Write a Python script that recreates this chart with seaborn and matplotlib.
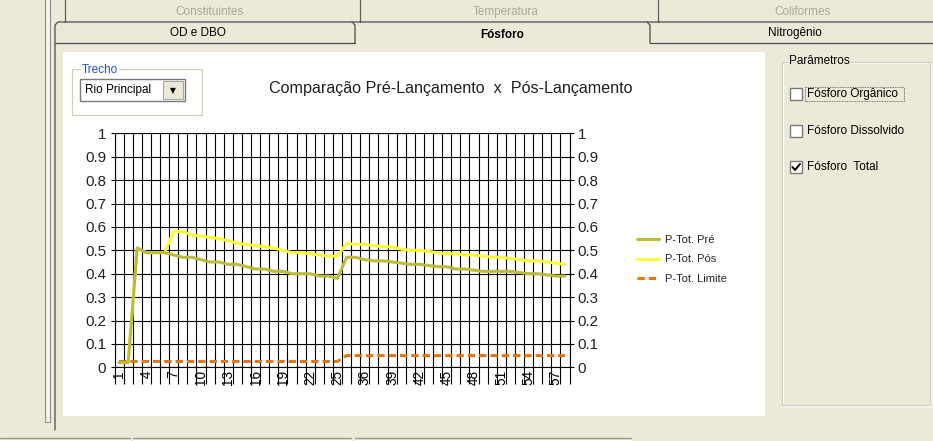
import numpy as np
import pandas as pd
import matplotlib
matplotlib.use("Agg")
import matplotlib.pyplot as plt
from matplotlib.patches import Rectangle
from matplotlib.lines import Line2D
from matplotlib.ticker import FixedLocator, FuncFormatter
import seaborn as sns

# ---------------- data ----------------
categories = ["1", "2", "3", "4", "5", "6", "7", "8", "9", "10", "11", "12", "13",
              "14", "15", "16", "17", "18", "19", "20", "21", "22", "23", "24", "25",
              "34", "35", "36", "37", "38", "39", "40", "41", "42", "43", "44", "45",
              "46", "47", "48", "49", "50", "51", "52", "53", "54", "55", "56", "57", "58"]

p_tot_pre = [0.02, 0.02, 0.51, 0.49, 0.49, 0.49, 0.48, 0.47, 0.47, 0.46, 0.45, 0.45, 0.44,
             0.44, 0.43, 0.42, 0.42, 0.41, 0.41, 0.40, 0.40, 0.40, 0.39, 0.39, 0.38,
             0.47, 0.47, 0.46, 0.455, 0.455, 0.45, 0.445, 0.44, 0.44, 0.435, 0.43, 0.43,
             0.42, 0.42, 0.415, 0.41, 0.41, 0.41, 0.41, 0.405, 0.40, 0.40, 0.395, 0.39, 0.39]

p_tot_pos = [0.02, 0.02, 0.51, 0.49, 0.49, 0.49, 0.58, 0.58, 0.565, 0.56, 0.555, 0.55, 0.54,
             0.53, 0.525, 0.52, 0.515, 0.51, 0.50, 0.49, 0.49, 0.485, 0.48, 0.475, 0.475,
             0.53, 0.525, 0.525, 0.52, 0.515, 0.515, 0.505, 0.50, 0.50, 0.495, 0.49, 0.485,
             0.485, 0.48, 0.48, 0.475, 0.47, 0.47, 0.465, 0.46, 0.455, 0.455, 0.45, 0.445, 0.44]

p_tot_limite = [0.025, 0.025, 0.025, 0.025, 0.025, 0.025, 0.025, 0.025, 0.025, 0.025,
                0.025, 0.025, 0.025, 0.025, 0.025, 0.025, 0.025, 0.025, 0.025, 0.025,
                0.025, 0.025, 0.025, 0.025, 0.025,
                0.05, 0.05, 0.05, 0.05, 0.05, 0.05, 0.05, 0.05, 0.05, 0.05,
                0.05, 0.05, 0.05, 0.05, 0.05, 0.05, 0.05, 0.05, 0.05, 0.05,
                0.05, 0.05, 0.05, 0.05, 0.05]

series_labels = ["P-Tot. Pré", "P-Tot. Pós", "P-Tot. Limite"]
y_ticks = [0, 0.1, 0.2, 0.3, 0.4, 0.5, 0.6, 0.7, 0.8, 0.9, 1]
title = "Comparação Pré-Lançamento  x  Pós-Lançamento"

df = pd.DataFrame({"pos": np.arange(len(categories)), "cat": categories,
                   "pre": p_tot_pre, "pos_": p_tot_pos, "lim": p_tot_limite})

# ---------------- style ----------------
sns.set_style("white")
plt.rcParams["font.family"] = ["Liberation Sans", "DejaVu Sans"]

W, H = 933, 441
BG = "#ECE9D8"
fig = plt.figure(figsize=(W / 100, H / 100), dpi=100, facecolor=BG)


def fx(x):
    return x / W


def fy(y):
    return 1 - y / H


def rect(x0, y0, x1, y1, z=0.5, **kw):
    fig.add_artist(Rectangle((fx(x0), fy(y1)), (x1 - x0) / W, (y1 - y0) / H,
                             transform=fig.transFigure, zorder=z, **kw))


def line(xs, ys, z=0.6, **kw):
    fig.add_artist(Line2D([fx(x) for x in xs], [fy(y) for y in ys],
                          transform=fig.transFigure, zorder=z, **kw))


def text(x, y, s, z=1, **kw):
    fig.text(fx(x), fy(y), s, zorder=z, **kw)


GUI_FONT = 8.5
# ---- window chrome ----
rect(45, -2, 50, 422, facecolor="#F4F3EE", edgecolor="#8E8E8E", linewidth=0.8)
# top tab row (partially hidden)
for xv in [65, 360, 658]:
    line([xv, xv], [0, 22], color="#5E5E5E", linewidth=0.9)
text(209, 12, "Constituintes", ha="center", va="center", fontsize=GUI_FONT, color="#ACA899")
text(506, 12, "Temperatura", ha="center", va="center", fontsize=GUI_FONT, color="#ACA899")
text(803, 12, "Coliformes", ha="center", va="center", fontsize=GUI_FONT, color="#ACA899")
# second tab row
line([55, 55, 58, 933], [430, 25, 22, 22], color="#4A4A4A", linewidth=0.9)
line([352, 355, 355], [22, 25, 43], color="#4A4A4A", linewidth=0.9)
line([647, 650, 650], [22, 25, 43], color="#4A4A4A", linewidth=0.9)
line([55, 355], [43, 43], color="#4A4A4A", linewidth=0.9)
line([650, 933], [43, 43], color="#4A4A4A", linewidth=0.9)
text(198, 33, "OD e DBO", ha="center", va="center", fontsize=GUI_FONT, color="black")
text(502, 35, "Fósforo", ha="center", va="center", fontsize=GUI_FONT, color="black",
     fontweight="bold")
text(795, 33, "Nitrogênio", ha="center", va="center", fontsize=GUI_FONT, color="black")
# bottom tabs
for (a, b) in [(0, 130), (133, 351), (355, 631)]:
    line([a, b], [438, 438], color="#9A9A90", linewidth=1.0)
    line([a, b], [439.5, 439.5], color="white", linewidth=0.8)

# white chart panel
rect(63, 52, 765, 416, z=0.2, facecolor="white", edgecolor="none")

# Trecho group box
rect(72, 69, 202, 115, facecolor="none", edgecolor="#D0D0BF", linewidth=0.9)
text(82, 70, "Trecho", ha="left", va="center", fontsize=GUI_FONT, color="#1E4FD8",
     bbox=dict(facecolor="white", edgecolor="none", pad=0.6))
rect(80, 79, 185, 101, facecolor="white", edgecolor="#7A7A7A", linewidth=1.0)
rect(163, 81, 183, 99, facecolor=BG, edgecolor="#A8A8A0", linewidth=0.8)
text(173, 90.5, "▼", ha="center", va="center", fontsize=5.5, color="black",
     family="DejaVu Sans")
text(85, 90.5, "Rio Principal", ha="left", va="center", fontsize=GUI_FONT, color="black")

# chart title
text(451, 88, title, ha="center", va="center", fontsize=11.6, color="#202020")

# Parâmetros group box
rect(782, 62, 930, 405, facecolor="none", edgecolor="#D0D0BF", linewidth=1.0)
rect(783, 63, 931, 406, z=0.45, facecolor="none", edgecolor="white", linewidth=1.0)
text(789, 61, "Parâmetros", ha="left", va="center", fontsize=GUI_FONT, color="black",
     bbox=dict(facecolor=BG, edgecolor="none", pad=0.6))
checks = [("Fósforo Orgânico", 94, False), ("Fósforo Dissolvido", 131, False),
          ("Fósforo  Total", 167, True)]
for lab, yc, checked in checks:
    rect(790, yc - 6, 802, yc + 6, facecolor="white", edgecolor="#7A7A7A", linewidth=1.0)
    text(807, yc, lab, ha="left", va="center", fontsize=GUI_FONT, color="black")
    if checked:
        line([792.5, 795, 800], [yc, yc + 3, yc - 3], z=1.2, color="black", linewidth=1.4)
rect(805, 87, 904, 101, facecolor="none", edgecolor="#505050", linewidth=0.6,
     linestyle=(0, (1, 1)))

# ---------------- chart ----------------
ax = fig.add_axes([fx(114.5), fy(367.3), 455 / W, 234 / H])
ax.set_zorder(5)
ax.set_facecolor("white")

C_PRE = "#BCBC3A"
C_POS = "#FFFF33"
C_LIM = "#E8740C"
LW = 2.2

sns.lineplot(data=df, x="pos", y="pos_", ax=ax, color=C_POS, linewidth=LW, zorder=3)
sns.lineplot(data=df, x="pos", y="lim", ax=ax, color=C_LIM, linewidth=LW,
             dashes=False, zorder=3.5).lines[-1].set_dashes((2.4, 1.3))
sns.lineplot(data=df, x="pos", y="pre", ax=ax, color=C_PRE, linewidth=LW, zorder=4)

ax.set_xlim(-0.5, len(categories) - 0.5)
ax.set_ylim(0, 1)
ax.set_xlabel("")
ax.set_ylabel("")

# x: labels every 3rd category, ticks at category boundaries
lab_pos = list(range(0, len(categories), 3))
ax.xaxis.set_major_locator(FixedLocator(lab_pos))
ax.set_xticklabels([categories[i] for i in lab_pos], rotation=90, fontsize=9.8,
                   ha="center", va="top")
ax.xaxis.set_minor_locator(FixedLocator([k - 0.5 for k in range(len(categories) + 1)]))
ax.tick_params(axis="x", which="major", length=0, pad=2, colors="black")
ax.tick_params(axis="x", which="minor", length=12.5, width=0.8, direction="out",
               color="black", bottom=True)

# y: both sides
ax.yaxis.set_major_locator(FixedLocator(y_ticks))
ax.yaxis.set_major_formatter(FuncFormatter(lambda v, p: "%g" % v))
ax.tick_params(axis="y", which="major", left=True, right=True, labelleft=True,
               labelright=True, length=3, width=0.8, direction="out", pad=3,
               labelsize=10.8, colors="black")
for t in ax.get_yticklabels():
    t.set_color("#202020")

ax.grid(False)
ax.grid(True, which="major", axis="y", color="black", linewidth=0.8)
ax.grid(True, which="minor", axis="x", color="black", linewidth=0.8)
ax.set_axisbelow(True)
for s in ax.spines.values():
    s.set_color("black")
    s.set_linewidth(0.8)
    s.set_visible(True)
ax.spines["top"].set_visible(False)

legend_handles = [Line2D([], [], color=C_PRE, linewidth=LW),
                  Line2D([], [], color=C_POS, linewidth=LW),
                  Line2D([], [], color=C_LIM, linewidth=LW, dashes=(2.4, 1.3))]
fig.legend(legend_handles, series_labels, loc="upper left",
           bbox_to_anchor=(fx(637), fy(235)), frameon=False, fontsize=8,
           handlelength=2.0, handletextpad=0.5, labelspacing=0.85,
           borderpad=0, borderaxespad=0)

fig.savefig("out.png", dpi=100, facecolor=BG)
